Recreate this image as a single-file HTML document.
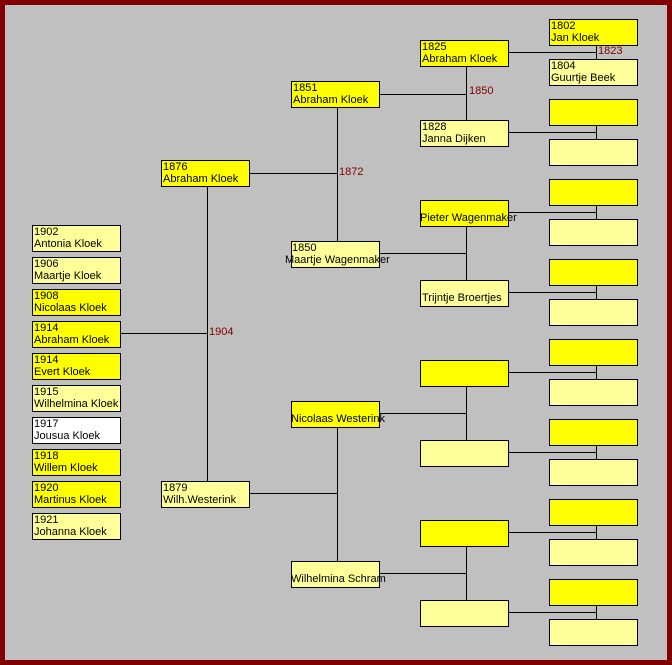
<!DOCTYPE html>
<html><head><meta charset="utf-8"><style>
*{margin:0;padding:0;box-sizing:border-box}
body{width:672px;height:665px;overflow:hidden;background:#800000;font-family:"Liberation Sans",sans-serif}
#f{position:absolute;left:5px;top:5px;width:662px;height:655px;background:#c0c0c0}
.b{position:absolute;width:89px;height:27px;border:1px solid #000;font-size:11px;line-height:12px;padding:0 0 0 1px;white-space:nowrap;color:#000}
.y{background:#ffff00}.l{background:#ffff99}.w{background:#fff}
.h{position:absolute;height:1px;background:#000}
.v{position:absolute;width:1px;background:#000}
.t{position:absolute;font-size:11px;color:#800000;line-height:11px}
</style></head><body><div id="f"></div>
<div class="h" style="left:248px;top:173px;width:89px"></div>
<div class="v" style="left:337px;top:107px;height:134px"></div>
<div class="h" style="left:378px;top:94px;width:88px"></div>
<div class="v" style="left:466px;top:66px;height:54px"></div>
<div class="h" style="left:508px;top:52px;width:88px"></div>
<div class="v" style="left:596px;top:45px;height:14px"></div>
<div class="h" style="left:508px;top:132px;width:88px"></div>
<div class="v" style="left:596px;top:125px;height:14px"></div>
<div class="h" style="left:508px;top:212px;width:88px"></div>
<div class="v" style="left:596px;top:205px;height:14px"></div>
<div class="h" style="left:508px;top:292px;width:88px"></div>
<div class="v" style="left:596px;top:285px;height:14px"></div>
<div class="h" style="left:508px;top:372px;width:88px"></div>
<div class="v" style="left:596px;top:365px;height:14px"></div>
<div class="h" style="left:508px;top:452px;width:88px"></div>
<div class="v" style="left:596px;top:445px;height:14px"></div>
<div class="h" style="left:508px;top:532px;width:88px"></div>
<div class="v" style="left:596px;top:525px;height:14px"></div>
<div class="h" style="left:508px;top:612px;width:88px"></div>
<div class="v" style="left:596px;top:605px;height:14px"></div>
<div class="h" style="left:379px;top:253px;width:87px"></div>
<div class="v" style="left:466px;top:226px;height:54px"></div>
<div class="h" style="left:379px;top:413px;width:87px"></div>
<div class="v" style="left:466px;top:385px;height:55px"></div>
<div class="h" style="left:379px;top:573px;width:87px"></div>
<div class="v" style="left:466px;top:545px;height:55px"></div>
<div class="h" style="left:249px;top:493px;width:88px"></div>
<div class="v" style="left:337px;top:427px;height:134px"></div>
<div class="v" style="left:207px;top:186px;height:295px"></div>
<div class="h" style="left:121px;top:333px;width:86px"></div>
<div class="t" style="left:339px;top:167px">1872</div>
<div class="t" style="left:469px;top:86px">1850</div>
<div class="t" style="left:598px;top:46px">1823</div>
<div class="t" style="left:209px;top:327px">1904</div>
<div class="b l" style="left:32px;top:225px">1902<br>Antonia Kloek</div>
<div class="b l" style="left:32px;top:257px">1906<br>Maartje Kloek</div>
<div class="b y" style="left:32px;top:289px">1908<br>Nicolaas Kloek</div>
<div class="b y" style="left:32px;top:321px">1914<br>Abraham Kloek</div>
<div class="b y" style="left:32px;top:353px">1914<br>Evert Kloek</div>
<div class="b l" style="left:32px;top:385px">1915<br>Wilhelmina Kloek</div>
<div class="b w" style="left:32px;top:417px">1917<br>Jousua Kloek</div>
<div class="b y" style="left:32px;top:449px">1918<br>Willem Kloek</div>
<div class="b y" style="left:32px;top:481px">1920<br>Martinus Kloek</div>
<div class="b l" style="left:32px;top:513px">1921<br>Johanna Kloek</div>
<div class="b y" style="left:161px;top:160px">1876<br>Abraham Kloek</div>
<div class="b l" style="left:161px;top:481px">1879<br>Wilh.Westerink</div>
<div class="b y" style="left:291px;top:81px">1851<br>Abraham Kloek</div>
<div class="b l" style="left:291px;top:241px;padding-left:0"><div>1850</div><div style="margin-left:-7px">Maartje Wagenmaker</div></div>
<div class="b y" style="left:291px;top:401px;padding-top:11px"><div style="margin-left:-2px">Nicolaas Westerink</div></div>
<div class="b l" style="left:291px;top:561px;padding-top:11px"><div style="margin-left:-2px">Wilhelmina Schram</div></div>
<div class="b y" style="left:420px;top:40px">1825<br>Abraham Kloek</div>
<div class="b l" style="left:420px;top:120px">1828<br>Janna Dijken</div>
<div class="b y" style="left:420px;top:200px;padding-top:11px"><div style="margin-left:-2px">Pieter Wagenmaker</div></div>
<div class="b l" style="left:420px;top:280px;padding-top:11px">Trijntje Broertjes</div>
<div class="b y" style="left:420px;top:360px"></div>
<div class="b l" style="left:420px;top:440px"></div>
<div class="b y" style="left:420px;top:520px"></div>
<div class="b l" style="left:420px;top:600px"></div>
<div class="b y" style="left:549px;top:19px">1802<br>Jan Kloek</div>
<div class="b l" style="left:549px;top:59px">1804<br>Guurtje Beek</div>
<div class="b y" style="left:549px;top:99px"></div>
<div class="b l" style="left:549px;top:139px"></div>
<div class="b y" style="left:549px;top:179px"></div>
<div class="b l" style="left:549px;top:219px"></div>
<div class="b y" style="left:549px;top:259px"></div>
<div class="b l" style="left:549px;top:299px"></div>
<div class="b y" style="left:549px;top:339px"></div>
<div class="b l" style="left:549px;top:379px"></div>
<div class="b y" style="left:549px;top:419px"></div>
<div class="b l" style="left:549px;top:459px"></div>
<div class="b y" style="left:549px;top:499px"></div>
<div class="b l" style="left:549px;top:539px"></div>
<div class="b y" style="left:549px;top:579px"></div>
<div class="b l" style="left:549px;top:619px"></div>
</body></html>
